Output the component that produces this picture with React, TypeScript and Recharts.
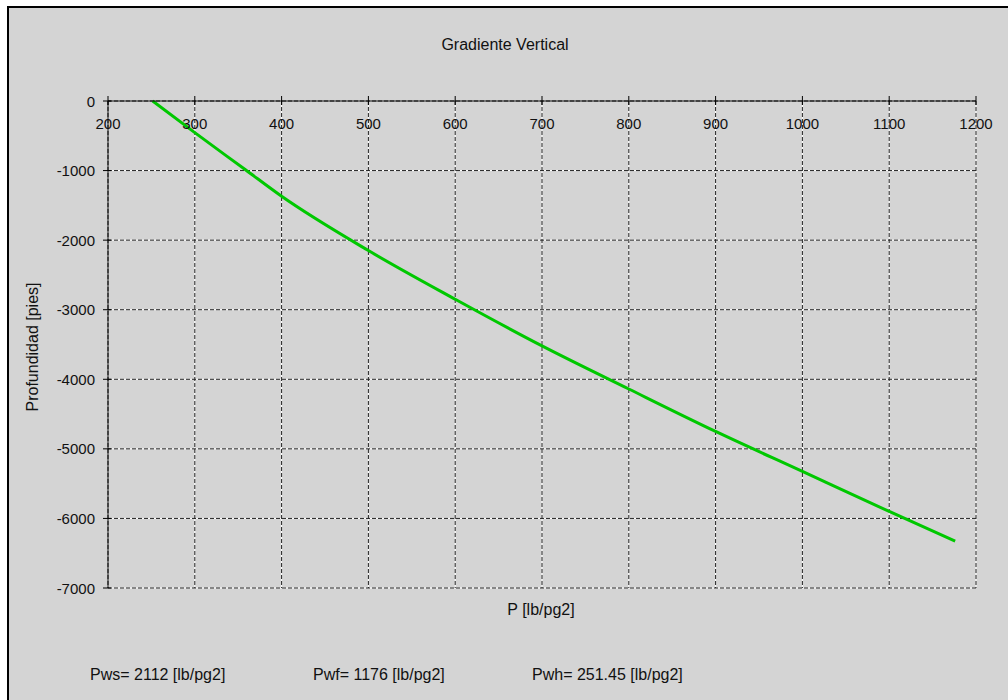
import { CartesianGrid, Line, LineChart, XAxis, YAxis } from "recharts";

// presión [lb/pg2] vs profundidad [pies]
const PRESSURE = [251.45, 300, 358, 400, 500, 600, 700, 800, 900, 1000, 1100, 1176];
const DEPTH = [0, -455, -985, -1370, -2150, -2850, -3520, -4140, -4750, -5325, -5900, -6325];

const X_TICKS = [200, 300, 400, 500, 600, 700, 800, 900, 1000, 1100, 1200];
const Y_TICKS = [0, -1000, -2000, -3000, -4000, -5000, -6000, -7000];

const TITLE = "Gradiente Vertical";
const X_LABEL = "P [lb/pg2]";
const Y_LABEL = "Profundidad [pies]";
const FOOTER = [
  { text: "Pws= 2112 [lb/pg2]", x: 90 },
  { text: "Pwf= 1176 [lb/pg2]", x: 313 },
  { text: "Pwh= 251.45 [lb/pg2]", x: 532 },
];

const FONT = "'Liberation Sans', Arial, sans-serif";
const BG = "#d4d4d4";
const INK = "#111";

const data = PRESSURE.map((p, i) => ({ p, depth: DEPTH[i] }));

// etiquetas del eje X debajo de la línea del eje (superior)
const XTick = ({ x, y, payload }: any) => (
  <g>
    <line x1={x} x2={x} y1={y - 5} y2={y + 4} stroke="#000" strokeWidth={1} />
    <text x={x} y={y + 28} textAnchor="middle" fontSize={15} fontFamily={FONT} fill={INK}>
      {payload.value}
    </text>
  </g>
);

const YTick = ({ x, y, payload }: any) => (
  <g>
    <line x1={x - 5} x2={x + 3} y1={y} y2={y} stroke="#000" strokeWidth={1} />
    <text x={x - 13} y={y + 5.5} textAnchor="end" fontSize={15} fontFamily={FONT} fill={INK}>
      {payload.value}
    </text>
  </g>
);

export default function App() {
  return (
    <div
      style={{
        position: "absolute",
        left: 0,
        top: 0,
        width: 1008,
        height: 700,
        overflow: "hidden",
        background: "#fff",
      }}
    >
      {/* marco */}
      <div
        style={{
          position: "absolute",
          left: 7,
          top: 6,
          width: 1100,
          height: 800,
          background: BG,
          borderLeft: "2px solid #000",
          borderTop: "2px solid #000",
        }}
      />
      <div style={{ position: "absolute", left: 0, top: 0 }}>
        <LineChart
          width={1008}
          height={700}
          data={data}
          margin={{ top: 81, right: 32, bottom: 112, left: 8 }}
        >
          <CartesianGrid stroke="#ffffff" strokeWidth={1} />
          <CartesianGrid stroke="#222" strokeWidth={1} strokeDasharray="4 2" />
          <XAxis
            dataKey="p"
            type="number"
            orientation="top"
            domain={[200, 1200]}
            ticks={X_TICKS}
            height={20}
            axisLine={{ stroke: "#000", strokeWidth: 1 }}
            tickLine={false}
            tickSize={0}
            tickMargin={0}
            tick={<XTick />}
            interval={0}
          />
          <YAxis
            type="number"
            domain={[-7000, 0]}
            ticks={Y_TICKS}
            width={100}
            axisLine={{ stroke: "#000", strokeWidth: 1 }}
            tickLine={false}
            tickSize={0}
            tickMargin={0}
            tick={<YTick />}
            interval={0}
          />
          <Line
            type="monotone"
            dataKey="depth"
            stroke="#00c800"
            strokeWidth={3}
            dot={false}
            activeDot={false}
            isAnimationActive={false}
          />
        </LineChart>
      </div>
      {/* textos */}
      <svg
        width={1008}
        height={700}
        style={{ position: "absolute", left: 0, top: 0, pointerEvents: "none" }}
      >
        <text x={505} y={50} textAnchor="middle" fontSize={16} fontFamily={FONT} fill={INK}>
          {TITLE}
        </text>
        <text x={541} y={615} textAnchor="middle" fontSize={16} fontFamily={FONT} fill={INK}>
          {X_LABEL}
        </text>
        <text
          x={38}
          y={347}
          textAnchor="middle"
          fontSize={16}
          fontFamily={FONT}
          fill={INK}
          transform="rotate(-90, 38, 347)"
        >
          {Y_LABEL}
        </text>
        {FOOTER.map((f) => (
          <text key={f.text} x={f.x} y={680} fontSize={16} fontFamily={FONT} fill={INK}>
            {f.text}
          </text>
        ))}
      </svg>
    </div>
  );
}
